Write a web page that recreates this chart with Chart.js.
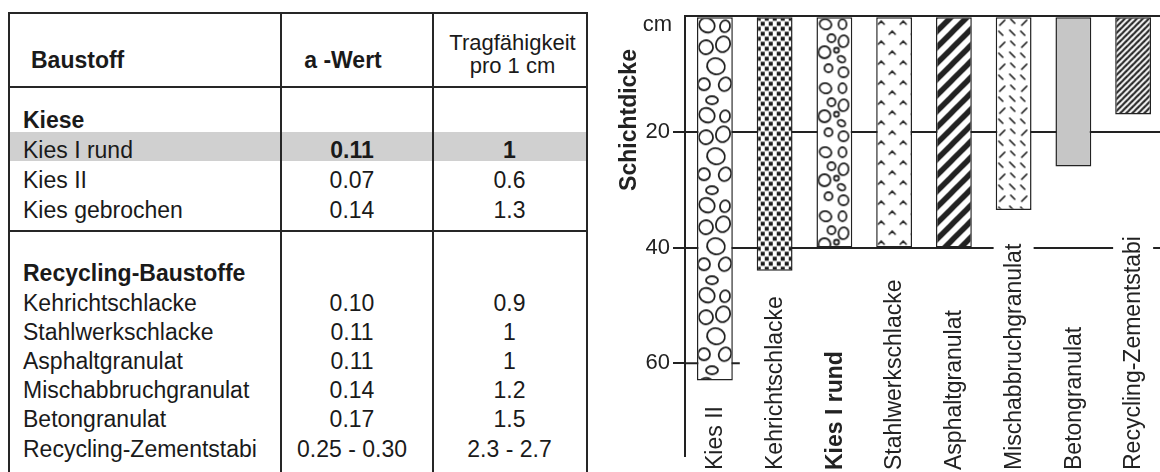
<!DOCTYPE html>
<html>
<head>
<meta charset="utf-8">
<script src="https://cdn.jsdelivr.net/npm/chart.js@4.4.1/dist/chart.umd.min.js"></script>
<style>
  html, body { margin:0; padding:0; background:#fff; }
  body { width:1160px; height:472px; position:relative; overflow:hidden;
         font-family:"Liberation Sans", Arial, sans-serif; color:#1a1a1a; }
  .ln { position:absolute; background:#262626; }
  .t { position:absolute; font-size:23px; line-height:30px; white-space:nowrap; }
  .b { font-weight:bold; }
  .c2 { left:281px; width:142px; text-align:center; }
  .c3 { left:433px; width:153px; text-align:center; }
  #hl { position:absolute; left:9px; top:132px; width:577px; height:29px; background:#d0d0d0; }
  #wrap { position:absolute; left:560px; top:0; width:603px; height:472px; }
</style>
</head>
<body>
<div id="hl"></div>
<div id="table"></div>
<div id="wrap"><canvas id="c"></canvas></div>
<script>
// ---- table data ----
const headers = ['Baustoff', 'a -Wert', 'Tragfähigkeit', 'pro 1 cm'];
const group1Title = 'Kiese';
const group1Names = ['Kies I rund', 'Kies II', 'Kies gebrochen'];
const group1A = ['0.11', '0.07', '0.14'];
const group1T = ['1', '0.6', '1.3'];
const group2Title = 'Recycling-Baustoffe';
const group2Names = ['Kehrichtschlacke', 'Stahlwerkschlacke', 'Asphaltgranulat', 'Mischabbruchgranulat', 'Betongranulat', 'Recycling-Zementstabi'];
const group2A = ['0.10', '0.11', '0.11', '0.14', '0.17', '0.25 - 0.30'];
const group2T = ['0.9', '1', '1', '1.2', '1.5', '2.3 - 2.7'];
const highlighted = 'Kies I rund';

// ---- chart data ----
const chartLabels = ['Kies II', 'Kehrichtschlacke', 'Kies I rund', 'Stahlwerkschlacke', 'Asphaltgranulat', 'Mischabbruchgranulat', 'Betongranulat', 'Recycling-Zementstabi'];
const thickness = [63, 44, 40, 40, 40, 33.5, 26, 17];
const yTickValues = [0, 20, 40, 60];
const yUnit = 'cm';
const yTitle = 'Schichtdicke';

// ---- build table ----
const T = document.getElementById('table');
function line(x, y, w, h) { const d = document.createElement('div'); d.className = 'ln';
  d.style.left = x + 'px'; d.style.top = y + 'px'; d.style.width = w + 'px'; d.style.height = h + 'px'; T.appendChild(d); }
function txt(s, cls, x, cy, extra) { const d = document.createElement('div'); d.className = 't ' + cls;
  d.textContent = s; if (x !== null) d.style.left = x + 'px'; d.style.top = (cy - 15) + 'px';
  if (extra) Object.assign(d.style, extra); T.appendChild(d); }
line(8, 12, 580, 2); line(8, 12, 2, 470); line(280, 12, 2, 470); line(432, 12, 2, 470); line(586, 12, 2, 470);
line(8, 86, 580, 2); line(8, 230, 580, 2);
txt(headers[0], 'b', 31, 60);
txt(headers[1], 'b', 270, 60, { width: '146px', textAlign: 'center', left: '270px' });
txt(headers[2], 'c3', null, 43, { fontSize: '22px', left: '436px' });
txt(headers[3], 'c3', null, 66, { fontSize: '22px', left: '436px' });
txt(group1Title, 'b', 23, 120);
group1Names.forEach((n, i) => {
  const cy = 150 + i * 30; const bold = n === highlighted ? ' b' : '';
  txt(n, '', 23, cy);
  txt(group1A[i], 'c2' + bold, null, cy);
  txt(group1T[i], 'c3' + bold, null, cy);
});
txt(group2Title, 'b', 23, 273);
group2Names.forEach((n, i) => {
  const cy = 302.5 + i * 29.2;
  txt(n, '', 23, cy);
  txt(group2A[i], 'c2', null, cy);
  txt(group2T[i], 'c3', null, cy);
});

// ---- patterns ----
const canvas = document.getElementById('c');
const cx = canvas.getContext('2d');
function tile(w, h, draw) {
  const c = document.createElement('canvas'); c.width = w; c.height = h;
  const g = c.getContext('2d'); g.fillStyle = '#fff'; g.fillRect(0, 0, w, h);
  g.strokeStyle = '#222'; g.fillStyle = '#1a1a1a'; g.lineCap = 'round'; draw(g);
  return cx.createPattern(c, 'repeat');
}
function pebbles(list) { return g => { g.lineWidth = 1.8; list.forEach(p => { g.beginPath(); g.ellipse(p[0], p[1], p[2], p[3], p[4] || 0, 0, Math.PI * 2); g.stroke(); }); }; }
function stripes(s, lw) { return g => { g.lineWidth = lw; g.lineCap = 'butt';
  for (let k = -1; k <= 1; k++) { g.beginPath(); g.moveTo(k * s - 2, s + 2); g.lineTo(k * s + s + 2, -2); g.stroke(); } }; }
const patterns = [
  tile(36, 90, pebbles([[10,9,8,7,0.5],[28,10,5,6,0.2],[26,28,7,8,0.4],[9,31,7,7,-0.3],[19,50,9,8,0.3],[7,68,6,6,0],[28,68,6,7,0.5],[15,84,6,4,0]])),
  tile(8, 10, g => { g.fillRect(0, 0.5, 4, 4); g.fillRect(4, 5.5, 4, 4); }),
  tile(34, 64, pebbles([[9,8,6,5,0.3],[26,8,4,5,0],[15,22,4,4,0],[27,25,5,6,0.2],[8,36,6,6,0],[25,43,4,3,0.5],[12,52,4,4,0],[27,56,5,5,0],[20,34,2.5,2.5,0]])),
  tile(22, 20, g => { g.lineWidth = 1.6; [[5,6],[16,16]].forEach(p => { g.beginPath(); g.moveTo(p[0]-3, p[1]+2); g.lineTo(p[0], p[1]-1); g.lineTo(p[0]+3, p[1]+2); g.stroke(); }); }),
  tile(16, 16, stripes(16, 5.5)),
  tile(22, 22, g => { g.lineWidth = 1.7; [[4,9,9,4],[14,14,19,19],[15,3,19,7],[3,15,7,19]].forEach(s => { g.beginPath(); g.moveTo(s[0], s[1]); g.lineTo(s[2], s[3]); g.stroke(); }); }),
  '#c6c6c6',
  tile(6, 6, stripes(6, 2.2))
];

// ---- chart ----
const ink = '#222';
const overlay = {
  id: 'overlay',
  beforeDatasetsDraw(chart) {
    const { ctx, scales: { x, y }, chartArea } = chart;
    const bars = chart.getDatasetMeta(0).data;
    bars.forEach((el, i) => {
      const p = patterns[i];
      if (p && typeof p !== 'string' && p.setTransform) p.setTransform(new DOMMatrix([1, 0, 0, 1, el.x - el.width / 2, chartArea.top]));
    });
    const bar = bars[0];
    const yy = y.getPixelForValue(60);
    ctx.save(); ctx.strokeStyle = ink; ctx.lineWidth = 2;
    ctx.beginPath(); ctx.moveTo(chartArea.left, yy); ctx.lineTo(bar.x + bar.width / 2 + 7, yy); ctx.stroke();
    ctx.restore();
  },
  afterDraw(chart) {
    const { ctx, scales: { x, y }, chartArea } = chart;
    ctx.save();
    ctx.fillStyle = ink; ctx.textBaseline = 'middle';
    chartLabels.forEach((lab, i) => {
      const px = x.getPixelForValue(i);
      ctx.save(); ctx.translate(px, 470); ctx.rotate(-Math.PI / 2);
      ctx.font = (lab === 'Kies I rund' ? 'bold ' : '') + '23px "Liberation Sans", Arial, sans-serif';
      const w = ctx.measureText(lab).width;
      ctx.fillStyle = '#fff'; ctx.fillRect(-2, -20, w + 6, 40);
      ctx.fillStyle = ink; ctx.textAlign = 'left'; ctx.fillText(lab, 0, 1);
      ctx.restore();
    });
    ctx.font = '22px "Liberation Sans", Arial, sans-serif';
    ctx.textAlign = 'right'; ctx.fillText(yUnit, 112, 25);
    ctx.save(); ctx.translate(70, 120); ctx.rotate(-Math.PI / 2);
    ctx.font = 'bold 23px "Liberation Sans", Arial, sans-serif'; ctx.textAlign = 'center';
    ctx.fillText(yTitle, 0, 0); ctx.restore();
    ctx.restore();
  }
};
Chart.defaults.font.family = '"Liberation Sans", Arial, sans-serif';
new Chart(canvas, {
  type: 'bar',
  data: { labels: chartLabels, datasets: [{ data: thickness, backgroundColor: patterns,
    borderColor: ink, borderWidth: 1.5, borderSkipped: false, barPercentage: 0.6, categoryPercentage: 1 }] },
  options: {
    responsive: true, maintainAspectRatio: false, animation: false,
    layout: { padding: { top: 14, left: 0, right: 0, bottom: 0 } },
    plugins: { legend: { display: false }, tooltip: { enabled: false } },
    scales: {
      x: { display: false },
      y: {
        reverse: true, min: 0, max: 76,
        afterFit(s) { s.width = 125; },
        afterBuildTicks(s) { s.ticks = yTickValues.map(v => ({ value: v })); },
        ticks: { color: ink, font: { size: 22 }, padding: 3, callback: v => v === 0 ? '' : v },
        grid: { lineWidth: 2, tickLength: 12,
          color: c => (c.tick && c.tick.value === 60) ? 'rgba(0,0,0,0)' : ink,
          tickColor: c => (c.tick && c.tick.value === 0) ? 'rgba(0,0,0,0)' : ink },
        border: { display: true, color: ink, width: 2 }
      }
    }
  },
  plugins: [overlay]
});
</script>
</body>
</html>
